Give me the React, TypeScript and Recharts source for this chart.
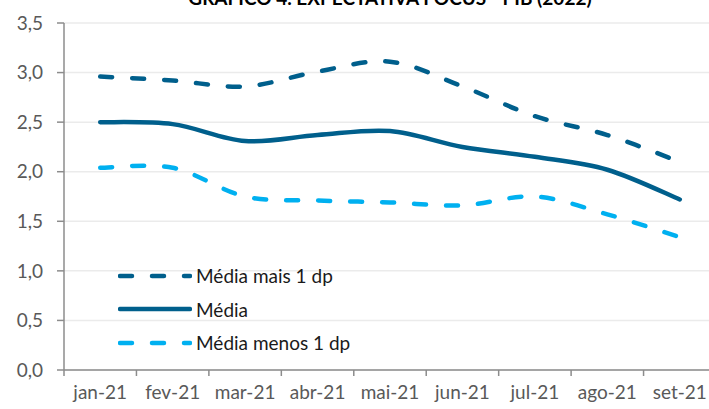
import React from "react"
import { LineChart, Line, XAxis, YAxis, CartesianGrid, Legend } from "recharts"

const months = ["jan-21", "fev-21", "mar-21", "abr-21", "mai-21", "jun-21", "jul-21", "ago-21", "set-21"]
const maisValues = [2.96, 2.92, 2.86, 3.01, 3.11, 2.86, 2.56, 2.37, 2.1]
const mediaValues = [2.5, 2.48, 2.31, 2.37, 2.41, 2.25, 2.15, 2.02, 1.72]
const menosValues = [2.04, 2.04, 1.75, 1.71, 1.69, 1.66, 1.75, 1.57, 1.34]
const yTicks = [0, 0.5, 1, 1.5, 2, 2.5, 3, 3.5]

const title = "GRÁFICO 4. EXPECTATIVA FOCUS - PIB (2022)"

const DARK = "#005F8C"
const LIGHT = "#00B0F0"
const AXIS = "#8C8C8C"
const FONT = "Lato, 'Noto Sans', sans-serif"

const series = [
  { key: "mais", name: "Média mais 1 dp", color: DARK, dash: "12 20" },
  { key: "media", name: "Média", color: DARK, dash: undefined },
  { key: "menos", name: "Média menos 1 dp", color: LIGHT, dash: "12 20" },
]

// x positions: band centers at i + 0.5, band edges at integers
const data = months.map((m, i) => ({
  pos: i + 0.5,
  month: m,
  mais: maisValues[i],
  media: mediaValues[i],
  menos: menosValues[i],
}))

const xTicks: number[] = []
for (let i = 0; i <= months.length; i++) {
  xTicks.push(i)
  if (i < months.length) xTicks.push(i + 0.5)
}

// Excel-like smoothed line (Catmull-Rom through the points)
function smoothCurve(context: any) {
  let pts: number[][] = []
  return {
    areaStart() {},
    areaEnd() {},
    lineStart() {
      pts = []
    },
    point(x: number, y: number) {
      pts.push([+x, +y])
    },
    lineEnd() {
      if (!pts.length) return
      context.moveTo(pts[0][0], pts[0][1])
      for (let i = 0; i < pts.length - 1; i++) {
        const p0 = pts[i - 1] || pts[i]
        const p1 = pts[i]
        const p2 = pts[i + 1]
        const p3 = pts[i + 2] || p2
        context.bezierCurveTo(
          p1[0] + (p2[0] - p0[0]) / 6,
          p1[1] + (p2[1] - p0[1]) / 6,
          p2[0] - (p3[0] - p1[0]) / 6,
          p2[1] - (p3[1] - p1[1]) / 6,
          p2[0],
          p2[1]
        )
      }
    },
  }
}

const TICK_SIZE = 6
const TICK_MARGIN = 10

function XTick(props: any) {
  const { x, y, payload } = props
  const v = payload.value
  const axisY = y - TICK_SIZE - TICK_MARGIN
  if (Number.isInteger(v)) {
    return <line x1={x} x2={x} y1={axisY} y2={axisY + TICK_SIZE} stroke={AXIS} strokeWidth={1.5} />
  }
  return (
    <text x={x} y={y} dy="0.71em" textAnchor="middle" fill="#595959" fontSize={19} fontFamily={FONT}>
      {months[Math.floor(v)]}
    </text>
  )
}

function LegendBox() {
  return (
    <div style={{ fontFamily: FONT, fontSize: 19, color: "#1a1a1a" }}>
      {series.map((s) => (
        <div key={s.key} style={{ display: "flex", alignItems: "center", height: 33.5 }}>
          <svg width={74} height={10} style={{ marginRight: 4 }}>
            <line
              x1={2}
              x2={72}
              y1={5}
              y2={5}
              stroke={s.color}
              strokeWidth={4.5}
              strokeLinecap="round"
              strokeDasharray={s.dash}
            />
          </svg>
          <span>{s.name}</span>
        </div>
      ))}
    </div>
  )
}

export default function App() {
  return (
    <div style={{ position: "absolute", left: 0, top: 0, width: 709, height: 409, overflow: "hidden", background: "#fff" }}>
      <LineChart width={740} height={409} data={data} margin={{ top: 23, right: 24, left: 0, bottom: 9 }}>
        <CartesianGrid vertical={false} stroke="#EBEBEB" strokeWidth={1.5} />
        <XAxis
          dataKey="pos"
          type="number"
          domain={[0, months.length]}
          ticks={xTicks}
          interval={0}
          height={30}
          tickLine={false}
          tickSize={TICK_SIZE}
          tickMargin={TICK_MARGIN}
          tick={<XTick />}
          axisLine={{ stroke: AXIS, strokeWidth: 1.5 }}
        />
        <YAxis
          domain={[0, 3.5]}
          ticks={yTicks}
          width={64}
          tickSize={7}
          tickMargin={14}
          tickFormatter={(v: number) => v.toFixed(1).replace(".", ",")}
          tick={{ fill: "#595959", fontSize: 19, fontFamily: FONT }}
          axisLine={{ stroke: AXIS, strokeWidth: 1.5 }}
          tickLine={{ stroke: AXIS, strokeWidth: 1.5 }}
        />
        <Legend
          content={<LegendBox />}
          layout="horizontal"
          verticalAlign="middle"
          align="center"
          wrapperStyle={{ left: 118, top: 259, width: 300 }}
        />
        {series.map((s) => (
          <Line
            key={s.key}
            type={smoothCurve as any}
            dataKey={s.key}
            name={s.name}
            stroke={s.color}
            strokeWidth={4.5}
            strokeLinecap="round"
            strokeDasharray={s.dash}
            dot={false}
            activeDot={false}
            isAnimationActive={false}
          />
        ))}
      </LineChart>
      <svg width={709} height={20} style={{ position: "absolute", left: 0, top: 0 }}>
        <text x={390} y={5} textAnchor="middle" fontFamily={FONT} fontWeight="bold" fontSize={19} fill="#000">
          {title}
        </text>
      </svg>
    </div>
  )
}
